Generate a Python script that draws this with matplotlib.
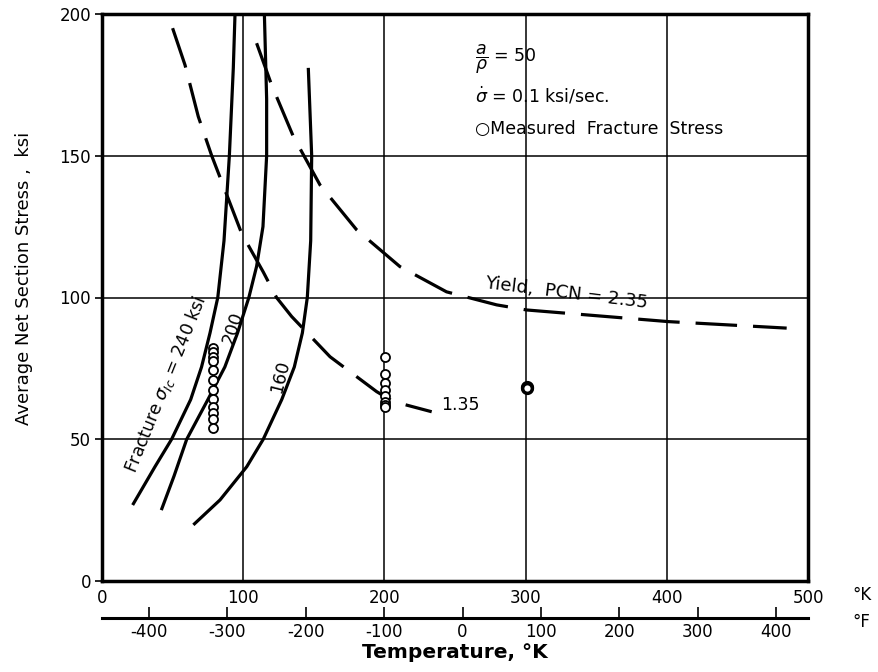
import matplotlib
matplotlib.use("Agg")
import matplotlib.pyplot as plt

plt.rcParams['font.family'] = ['DejaVu Sans']

# Fracture curves (solid)
frac240_T = [21.7, 37.5, 49.3, 62.8, 70.5, 76.5, 82, 86.4, 90.2, 93, 94.2]
frac240_S = [26.8, 40.3, 50, 64, 75.5, 87.5, 100, 120, 150, 181, 200]
frac200_T = [42, 51, 60, 75, 87, 96, 104, 109.5, 114, 116.6, 116.6, 115]
frac200_S = [25, 37, 50, 64, 75.5, 87.5, 100, 111, 125, 150, 170, 200]
frac160_T = [64.7, 83.6, 102.5, 114.2, 127.3, 136.2, 141.9, 145.4, 147.8, 148.5, 146.1]
frac160_S = [19.8, 28.6, 40.3, 50, 64, 75.5, 87.5, 100, 120, 150, 181]

# Yield curves (dashed)
yield135_T = [50, 58.8, 68.2, 77.7, 98.9, 114.2, 123.6, 134.3, 161.5, 194.5, 206.3, 233.5]
yield135_S = [195, 182, 163.8, 150, 122.6, 109, 100, 93.3, 79.1, 66.8, 63.3, 59.7]
yield235_T = [109.5, 120.1, 135.5, 154.4, 180.3, 211, 244, 279.5, 300.8, 401, 484.9]
yield235_S = [189.7, 175, 156.8, 139.7, 123.9, 110.9, 102, 97.4, 95.6, 91.5, 89.2]

# Measured fracture stress
meas80_T = [78.8] * 12
meas80_S = [82.1, 80.6, 79.1, 77.7, 74.4, 70.9, 67.4, 64.1, 61.5, 59.4, 57.1, 53.9]
meas200_T = [200.4] * 8
meas200_S = [79.1, 73, 69.8, 67.4, 65.3, 63.2, 62.1, 61.3]
meas300_T = [300.8, 300.8]
meas300_S = [68.6, 68.2]

k_ticks = [0, 100, 200, 300, 400, 500]
k_labels = ['0', '100', '200', '300', '400', '500']
s_ticks = [0, 50, 100, 150, 200]
f_ticks = [-400, -300, -200, -100, 0, 100, 200, 300, 400]

fig = plt.figure(figsize=(8.79, 6.72), dpi=100)
ax = fig.add_axes([102/879, 1-581/672, (808-102)/879, (581-14)/672])
ax.set_xlim(0, 500)
ax.set_ylim(0, 200)

for v in [100, 200, 300, 400]:
    ax.axvline(v, color='black', lw=1.1, zorder=1)
for v in [50, 100, 150]:
    ax.axhline(v, color='black', lw=1.1, zorder=1)

lw = 2.3
for T, S in [(frac240_T, frac240_S), (frac200_T, frac200_S), (frac160_T, frac160_S)]:
    ax.plot(T, S, color='black', lw=lw, solid_capstyle='butt', zorder=3)
for T, S in [(yield135_T, yield135_S), (yield235_T, yield235_S)]:
    ax.plot(T, S, color='black', lw=lw, linestyle=(0, (13, 5)), zorder=3)

mk = dict(marker='o', linestyle='none', markersize=6.5, markerfacecolor='white',
          markeredgecolor='black', markeredgewidth=1.3, zorder=4)
ax.plot(meas80_T, meas80_S, **mk)
ax.plot(meas200_T, meas200_S, **mk)
ax.plot(meas300_T, meas300_S, marker='o', linestyle='none', markersize=7,
        markerfacecolor='white', markeredgecolor='black', markeredgewidth=2.5, zorder=4)

for s in ax.spines.values():
    s.set_linewidth(2.5)

ax.set_xticks(k_ticks)
ax.set_xticklabels(k_labels)
ax.set_yticks(s_ticks)
ax.tick_params(axis='x', length=0, labelsize=12, pad=6)
ax.tick_params(axis='y', direction='out', length=5, width=1.2, labelsize=12, pad=3)

# Curve labels
ax.text(44.8, 69.5, r'Fracture $\sigma_{Ic}$ = 240 ksi', rotation=68, fontsize=12.5,
        ha='center', va='center', rotation_mode='anchor', zorder=5)
ax.text(93, 89.5, '200', rotation=72, fontsize=12.5, ha='center', va='center',
        rotation_mode='anchor', zorder=5)
ax.text(126, 72, '160', rotation=76, fontsize=12.5, ha='center', va='center',
        rotation_mode='anchor', zorder=5)
ax.text(240, 62, '1.35', fontsize=12.5, ha='left', va='center', zorder=5)
ax.text(329, 101.5, 'Yield,  PCN = 2.35', rotation=-7, fontsize=13, ha='center',
        va='center', rotation_mode='anchor', zorder=5)

# Legend block
ax.text(264, 184, r'$\dfrac{a}{\rho}$ = 50', fontsize=12.5, ha='left', va='center')
ax.text(264, 171, r'$\dot{\sigma}$ = 0.1 ksi/sec.', fontsize=12.5, ha='left', va='center')
ax.text(264, 159.5, u'\u25CBMeasured  Fracture  Stress', fontsize=12.5, ha='left', va='center')

ax.set_ylabel('Average Net Section Stress ,  ksi', fontsize=13)
ax.yaxis.set_label_coords(-0.098, 0.534)

# Fahrenheit axis
def k2f(k):
    return k * 9.0 / 5.0 - 459.67

def f2k(f):
    return (f + 459.67) * 5.0 / 9.0

sec = ax.secondary_xaxis(-0.065, functions=(k2f, f2k))
sec.set_xticks(f_ticks)
sec.set_xticklabels([str(v) for v in f_ticks])
sec.tick_params(direction='in', length=8, width=1.2, labelsize=12, pad=4)
sec.spines['bottom'].set_linewidth(2.2)
sec.set_xlabel(u'Temperature, \u00b0K', fontsize=14.5, fontweight='bold', labelpad=1)

fig.text(852/879, 1-595/672, u'\u00b0K', fontsize=12, ha='left', va='center')
fig.text(852/879, 1-622/672, u'\u00b0F', fontsize=12, ha='left', va='center')

fig.savefig('out.png', dpi=100)
